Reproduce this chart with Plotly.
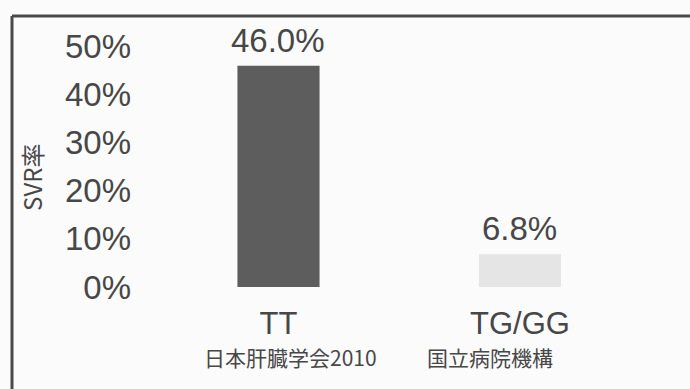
import plotly.graph_objects as go

# SVR rate by genotype
categories = ["TT", "TG/GG"]
svr_rates = [46.0, 6.8]
y_ticks = [0, 10, 20, 30, 40, 50]
y_tick_labels = ["0%", "10%", "20%", "30%", "40%", "50%"]
y_title = "SVR率"
source_left = "日本肝臓学会2010"
source_right = "国立病院機構"

bar_colors = ["#5d5d5d", "#e5e5e5"]
text_color = "#474747"
frame_color = "#4a4a4a"
bg_color = "#fbfbfb"
latin_font = "Liberation Sans, Arial, sans-serif"
cjk_font = "Noto Sans CJK JP, sans-serif"

fig = go.Figure()
fig.add_trace(go.Bar(
    x=list(range(len(categories))),
    y=svr_rates,
    width=0.34,
    marker=dict(color=bar_colors, line=dict(width=0)),
    hoverinfo="skip",
))

# Value labels above each bar
for i, v in enumerate(svr_rates):
    fig.add_annotation(
        x=i, y=v, xref="x", yref="y",
        text=f"{v:.1f}%", showarrow=False,
        yanchor="bottom", yshift=5,
        font=dict(family=latin_font, size=33, color=text_color),
    )

# Frame lines along the top and left edges
fig.add_shape(type="line", xref="paper", yref="paper",
              x0=-0.256, x1=1.2, y0=1.095, y1=1.095,
              line=dict(color=frame_color, width=3))
fig.add_shape(type="line", xref="paper", yref="paper",
              x0=-0.256, x1=-0.256, y0=1.095, y1=-0.45,
              line=dict(color=frame_color, width=3))

# Vertical axis title
fig.add_annotation(
    x=-0.216, y=0.455, xref="paper", yref="paper",
    text=y_title, showarrow=False, textangle=-90,
    xanchor="center", yanchor="middle",
    font=dict(family=cjk_font, size=24, color=text_color),
)

# Source note below the categories
fig.add_annotation(
    x=0.124, y=-0.253, xref="paper", yref="paper",
    text=source_left, showarrow=False,
    xanchor="left", yanchor="middle",
    font=dict(family=cjk_font, size=21, color=text_color),
)
fig.add_annotation(
    x=0.83, y=-0.253, xref="paper", yref="paper",
    text=source_right, showarrow=False,
    xanchor="right", yanchor="middle",
    font=dict(family=cjk_font, size=21, color=text_color),
)

fig.update_layout(
    width=690, height=389,
    margin=dict(l=140, r=50, t=40, b=96),
    paper_bgcolor=bg_color,
    plot_bgcolor=bg_color,
    showlegend=False,
    xaxis=dict(
        range=[-0.5735, 1.497],
        tickvals=list(range(len(categories))),
        ticktext=categories,
        showgrid=False, zeroline=False, showline=False, ticks="",
        ticklabelstandoff=9,
        tickfont=dict(family=latin_font, size=31, color=text_color),
        fixedrange=True,
    ),
    yaxis=dict(
        range=[-1.25, 51.35],
        tickvals=y_ticks,
        ticktext=y_tick_labels,
        showgrid=False, zeroline=False, showline=False, ticks="",
        ticklabelstandoff=8,
        tickfont=dict(family=latin_font, size=33, color=text_color),
        fixedrange=True,
    ),
)

fig.write_html("out.html")
